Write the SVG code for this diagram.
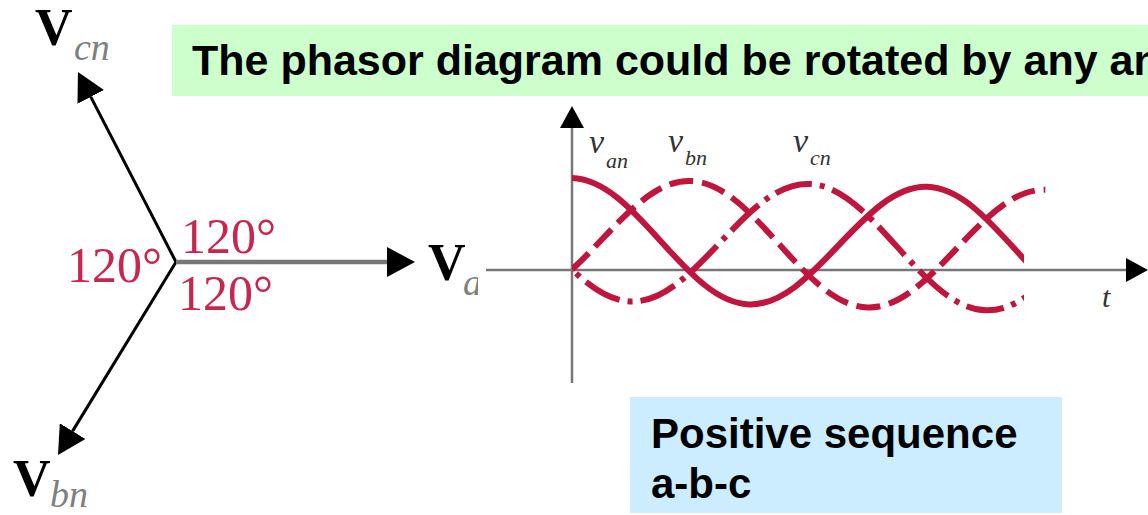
<svg xmlns="http://www.w3.org/2000/svg" width="1148" height="515" viewBox="0 0 1148 515">
  <style>
    .banner { font-family: "Liberation Sans", Arial, sans-serif; font-weight: bold; fill: #000; }
    .vbig { font-family: "Liberation Serif", "Times New Roman", serif; font-weight: bold; font-size: 52px; fill: #000; }
    .vsub { font-family: "Liberation Serif", "Times New Roman", serif; font-style: italic; font-size: 38px; fill: #808080; }
    .deg { font-family: "Liberation Serif", "Times New Roman", serif; font-size: 50px; fill: #C8264E; }
    .wl { font-family: "Liberation Serif", "Times New Roman", serif; font-style: italic; fill: #333; }
    .phasor { stroke: #000; stroke-width: 3; fill: none; }
    .wave { fill: none; stroke: #C0153D; stroke-width: 6; }
    .axis { stroke: #777; stroke-width: 2.5; fill: none; }
  </style>
  <defs>
    <marker id="head" viewBox="0 0 28 30" refX="0" refY="15" markerWidth="28" markerHeight="30" markerUnits="userSpaceOnUse" orient="auto">
      <path d="M0,0 L28,15 L0,30 Z" fill="#000"/>
    </marker>
    <marker id="axhead" viewBox="0 0 22 24" refX="0" refY="12" markerWidth="22" markerHeight="24" markerUnits="userSpaceOnUse" orient="auto">
      <path d="M0,0 L22,12 L0,24 Z" fill="#000"/>
    </marker>
    <clipPath id="clipA"><rect x="572" y="100" width="452" height="260"/></clipPath>
    <clipPath id="clipB"><rect x="572" y="100" width="480" height="260"/></clipPath>
    <clipPath id="clipC"><rect x="572" y="100" width="452" height="260"/></clipPath>
    <clipPath id="clipSub"><rect x="455" y="260" width="23" height="50"/></clipPath>
  </defs>

  <g id="title">
    <rect x="172" y="25" width="976" height="71" fill="#CCFFCC"/>
    <text class="banner" x="192" y="75" font-size="43">The phasor diagram could be rotated by any an</text>
  </g>

  <g id="connectors">
    <line class="phasor" x1="176" y1="262" x2="90.8" y2="96.9" marker-end="url(#head)"/>
    <line class="phasor" x1="176" y1="262" x2="72.6" y2="431.1" marker-end="url(#head)"/>
    <line x1="176" y1="262" x2="387" y2="262" stroke="#777" stroke-width="4.5" marker-end="url(#head)"/>
  </g>

  <g id="phasor-Vcn">
    <text class="vbig" x="35" y="45">V</text>
    <text class="vsub" x="74" y="60">cn</text>
  </g>
  <g id="phasor-Vbn">
    <text class="vbig" x="13" y="496">V</text>
    <text class="vsub" x="50" y="507">bn</text>
  </g>
  <g id="phasor-Va">
    <text class="vbig" x="428" y="280">V</text>
    <text class="vsub" x="463" y="295" clip-path="url(#clipSub)">a</text>
  </g>
  <g id="angles">
    <text class="deg" x="67" y="282">120°</text>
    <text class="deg" x="181" y="253">120°</text>
    <text class="deg" x="178" y="310">120°</text>
  </g>

  <g id="waveform">
    <line class="axis" x1="572" y1="383" x2="572" y2="128" marker-end="url(#axhead)"/>
    <line class="axis" x1="486" y1="270" x2="1126" y2="270" marker-end="url(#axhead)"/>
    <g transform="translate(572,0) skewY(1.43) translate(-572,0)">
      <path id="v-an" class="wave" clip-path="url(#clipA)" d="M572,178 C604.12,178 631.81,207.75 660.75,239 C689.69,270.25 717.38,300 749.5,300 C781.62,300 809.31,270.25 838.25,239 C867.19,207.75 894.88,178 927,178 C959.12,178 986.81,207.75 1015.75,239 C1044.69,270.25 1072.38,300 1104.5,300"/>
      <path id="v-bn" class="wave" clip-path="url(#clipB)" stroke-dasharray="24 9" stroke-dashoffset="-2" d="M512.83,300 C544.95,300 572.64,270.25 601.58,239 C630.52,207.75 658.21,178 690.33,178 C722.45,178 750.14,207.75 779.08,239 C808.02,270.25 835.71,300 867.83,300 C899.95,300 927.64,270.25 956.58,239 C985.52,207.75 1013.21,178 1045.33,178"/>
      <path id="v-cn" class="wave" clip-path="url(#clipC)" stroke-dasharray="38 8 5 8" stroke-dashoffset="-2" d="M542.42,239 C571.36,270.25 599.05,300 631.17,300 C663.29,300 690.98,270.25 719.92,239 C748.86,207.75 776.55,178 808.67,178 C840.79,178 868.48,207.75 897.42,239 C926.36,270.25 954.05,300 986.17,300 C1018.29,300 1045.98,270.25 1074.92,239"/>
    </g>
    <text class="wl" x="589" y="153" font-size="34">v</text>
    <text class="wl" x="606" y="168" font-size="22">an</text>
    <text class="wl" x="668" y="152" font-size="34">v</text>
    <text class="wl" x="685" y="165" font-size="22">bn</text>
    <text class="wl" x="793" y="152" font-size="34">v</text>
    <text class="wl" x="810" y="165" font-size="22">cn</text>
    <text class="wl" x="1102" y="307" font-size="30">t</text>
  </g>

  <g id="sequence-note">
    <rect x="630" y="397" width="432" height="116" fill="#CCECFF"/>
    <text class="banner" x="651" y="448" font-size="42">Positive sequence</text>
    <text class="banner" x="651" y="498" font-size="42">a-b-c</text>
  </g>
</svg>
